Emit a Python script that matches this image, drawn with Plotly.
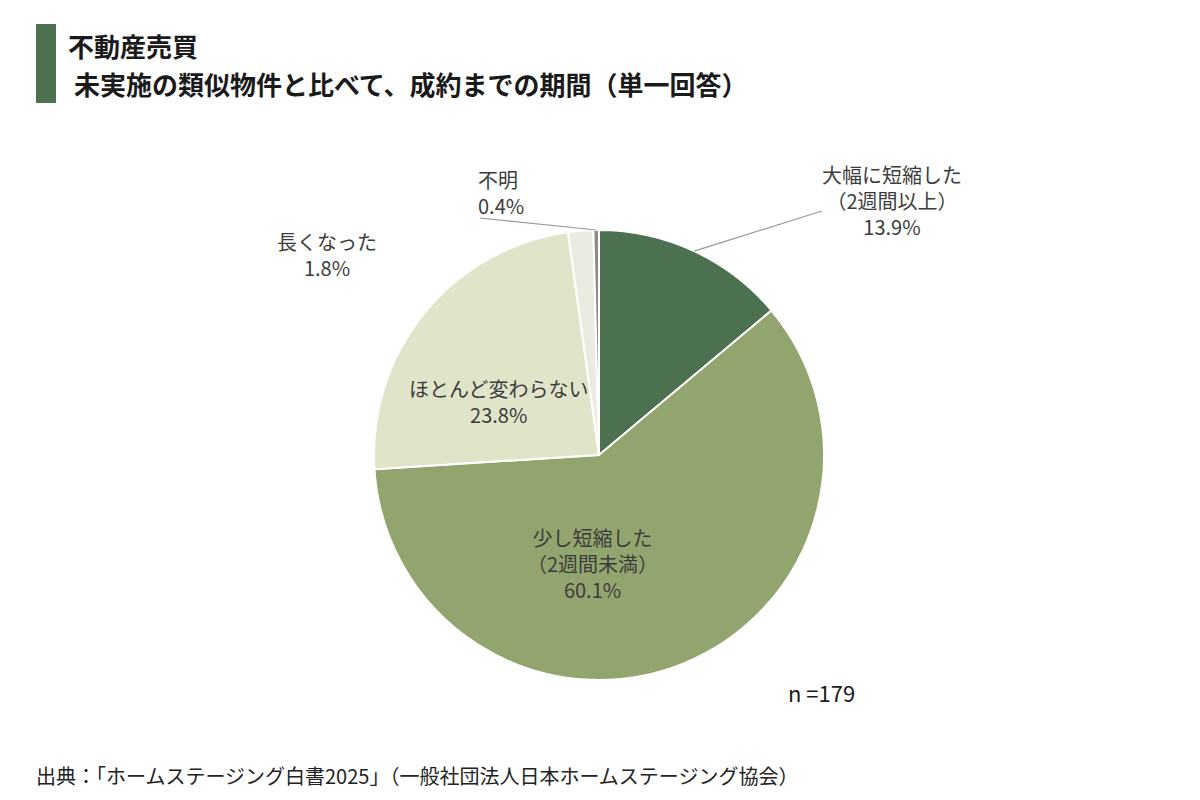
import math
import plotly.graph_objects as go

# data
labels = ["大幅に短縮した", "少し短縮した", "ほとんど変わらない", "長くなった", "不明"]
sublabels = ["（2週間以上）", "（2週間未満）", "", "", ""]
values = [13.9, 60.1, 23.8, 1.8, 0.4]
colors = ["#4b7151", "#93a56e", "#e0e4c9", "#ecebe1", "#8c8c84"]
sample_n = 179

title_1 = "不動産売買"
title_2 = "未実施の類似物件と比べて、成約までの期間（単一回答）"
source = "出典：「ホームステージング白書2025」（一般社団法人日本ホームステージング協会）"

W, H = 1200, 800
OFF = 8  # page body margin, shift everything back
cx, cy, r = 599, 455, 225
FONT = "Noto Sans CJK JP"
TXT = "#3c3c3c"


def px(x, y):
    return (x - OFF) / W, 1 - (y - OFF) / H


fig = go.Figure()
dx0, dy0 = px(cx - r, cy + r)
dx1, dy1 = px(cx + r, cy - r)
fig.add_trace(go.Pie(
    labels=labels, values=values, sort=False, direction="clockwise", rotation=0,
    marker=dict(colors=colors, line=dict(color="white", width=2)),
    textinfo="none", hoverinfo="label+percent", showlegend=False,
    domain=dict(x=[dx0, dx1], y=[dy0, dy1]),
))


def label_text(i):
    parts = [labels[i]]
    if sublabels[i]:
        parts.append(sublabels[i])
    parts.append(f"{values[i]}%")
    return "<br>".join(parts)


# label positions (px) for each slice: (x, y, anchor)
label_pos = [(892, 200, "center"), (592, 563, "center"), (498, 402, "center"),
             (327, 254, "center"), (476, 192, "left")]
for i, (lx, ly, anc) in enumerate(label_pos):
    x, y = px(lx, ly)
    fig.add_annotation(x=x, y=y, xref="paper", yref="paper", text=label_text(i),
                       showarrow=False, xanchor=anc, yanchor="middle", align=anc,
                       font=dict(family=FONT, size=20, color=TXT))

# leader lines from slice mid-angle on the rim
total = sum(values)
cum = 0
leader_end = {0: (822, 211), 4: (480, 218)}
for i, v in enumerate(values):
    mid = (cum + v / 2) / total * 2 * math.pi
    cum += v
    if i not in leader_end:
        continue
    sx, sy = cx + r * math.sin(mid), cy - r * math.cos(mid)
    ex, ey = leader_end[i]
    x0, y0 = px(sx, sy)
    x1, y1 = px(ex, ey)
    fig.add_shape(type="line", xref="paper", yref="paper", x0=x0, y0=y0, x1=x1, y1=y1,
                  line=dict(color="#9a9a9a", width=1.2))

# title bar
bx0, by0 = px(36, 103)
bx1, by1 = px(56, 24)
fig.add_shape(type="rect", xref="paper", yref="paper", x0=bx0, x1=bx1,
              y0=by0, y1=by1, fillcolor="#4b7151", line=dict(width=0))
for txt, y in [(title_1, 45), (" " + title_2, 83)]:
    tx, ty = px(66, y)
    fig.add_annotation(x=tx, y=ty, xref="paper", yref="paper", text=f"<b>{txt}</b>",
                       showarrow=False, xanchor="left", yanchor="middle",
                       font=dict(family=FONT, size=26, color="#1a1a1a"))

nx, ny = px(786, 692)
fig.add_annotation(x=nx, y=ny, xref="paper", yref="paper", text=f"n ={sample_n}",
                   showarrow=False, xanchor="left", yanchor="middle",
                   font=dict(family=FONT, size=22, color="#1a1a1a"))
sx_, sy_ = px(34, 775)
fig.add_annotation(x=sx_, y=sy_, xref="paper", yref="paper", text=source,
                   showarrow=False, xanchor="left", yanchor="middle",
                   font=dict(family=FONT, size=20, color="#222222"))

fig.update_layout(width=W, height=H, margin=dict(l=0, r=0, t=0, b=0),
                  paper_bgcolor="white", plot_bgcolor="white")

fig.write_html("out.html")
